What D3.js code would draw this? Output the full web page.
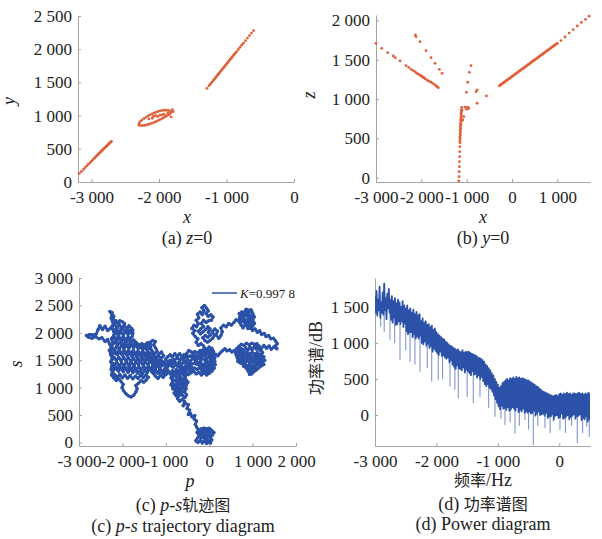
<!DOCTYPE html>
<meta charset="utf-8">
<style>
body { margin: 0; background: #fff; }
</style>
<svg width="602" height="539"></svg>
<script src="https://cdn.jsdelivr.net/npm/d3@7"></script>
<script>
// ---- (a) z=0 : three groups of points, [x, y]
var aLowLine = [[-3180,130],[-3150,160],[-3120,190],[-3095,215],[-3070,242],[-3045,268],[-3020,293],[-3000,315],[-2980,335],[-2960,356],[-2945,372],[-2930,388],[-2915,403],[-2900,418],[-2885,433],[-2870,448],[-2855,463],[-2840,478],[-2828,490],[-2816,502],[-2804,514],[-2792,525],[-2780,537],[-2768,549],[-2756,561],[-2745,572],[-2734,583],[-2723,594],[-2712,605],[-2705,612]];
var aEllipse = [[-2300,860],[-2280,852],[-2250,850],[-2220,852],[-2190,858],[-2160,866],[-2130,876],[-2100,888],[-2070,900],[-2040,913],[-2010,927],[-1980,942],[-1950,958],[-1920,975],[-1890,992],[-1860,1010],[-1835,1030],[-1820,1050],[-1830,1068],[-1860,1078],[-1890,1082],[-1920,1082],[-1950,1078],[-1980,1072],[-2010,1063],[-2040,1052],[-2070,1040],[-2100,1027],[-2130,1012],[-2160,996],[-2190,978],[-2220,958],[-2250,936],[-2275,912],[-2295,888],[-2080,990],[-2050,1000],[-2020,985],[-1990,1005],[-1960,1010],[-1930,1020],[-1900,1000],[-1870,1040],[-1800,1090],[-1790,1060],[-1820,980],[-2100,960],[-2150,950]];
var aHighLine = [[-1290,1411],[-1260,1449],[-1240,1474],[-1220,1499],[-1200,1524],[-1185,1543],[-1170,1562],[-1155,1581],[-1140,1600],[-1125,1619],[-1110,1638],[-1095,1657],[-1080,1676],[-1065,1695],[-1050,1713],[-1035,1732],[-1020,1751],[-1005,1770],[-990,1789],[-975,1808],[-960,1827],[-945,1846],[-930,1865],[-915,1884],[-900,1903],[-885,1922],[-870,1941],[-850,1964],[-825,1997],[-800,2028],[-775,2060],[-750,2091],[-720,2129],[-690,2167],[-660,2205],[-630,2243],[-600,2281]];
var aXTicks = [-3000,-2000,-1000,0], aXLabels = ['-3 000','-2 000','-1 000','0'];
var aYTicks = [0,500,1000,1500,2000,2500], aYLabels = ['0','500','1 000','1 500','2 000','2 500'];

// ---- (b) y=0 : points, [x, z]
var bLeftLine = [[-3000,1710],[-2874,1646],[-2742,1590],[-2618,1548],[-2574,1527],[-2470,1485],[-2338,1425],[-2278,1404],[-2227,1379],[-2177,1361],[-2132,1345],[-2095,1328],[-2057,1315],[-2022,1303],[-2000,1295],[-1985,1285],[-1960,1277],[-1947,1272],[-1930,1264],[-1912,1256],[-1870,1240],[-1830,1228],[-1786,1214],[-1748,1201],[-1710,1185],[-1675,1167],[-1650,1157],[-1625,1145]];
var bShortLine = [[-2132,1816],[-2117,1794],[-2029,1730],[-1896,1616],[-1786,1527],[-1698,1455],[-1603,1379],[-1543,1328]];
var bStem = [[-1174,-40],[-1168,13],[-1166,76],[-1162,140],[-1160,204],[-1156,267],[-1153,331],[-1150,394],[-1146,445],[-1150,470],[-1144,501],[-1148,520],[-1140,543],[-1146,565],[-1136,585],[-1144,605],[-1132,628],[-1140,650],[-1128,670],[-1136,690],[-1124,712],[-1132,735],[-1120,755],[-1128,775],[-1116,797],[-1124,820],[-1112,840],[-1120,860],[-1110,895],[-1087,734],[-1064,776],[-1102,861],[-1035,896],[-976,896],[-954,880],[-1000,870]];
var bScatter = [[-903,1425],[-940,1341],[-976,1214],[-1006,1086],[-770,1116],[-792,1094],[-770,947],[-565,1040]];
var bRightLine = [[-280,1169],[-260,1177],[-240,1186],[-220,1194],[-200,1203],[-180,1211],[-160,1220],[-140,1228],[-120,1237],[-100,1245],[-80,1254],[-60,1262],[-40,1271],[-20,1279],[0,1287],[20,1296],[40,1304],[60,1313],[80,1321],[100,1330],[120,1338],[140,1347],[160,1355],[180,1364],[200,1372],[220,1381],[240,1389],[260,1398],[280,1406],[300,1415],[320,1423],[340,1432],[360,1440],[380,1449],[400,1457],[420,1466],[440,1474],[460,1483],[480,1491],[500,1500],[520,1508],[540,1516],[560,1524],[580,1533],[600,1541],[620,1550],[640,1558],[660,1567],[680,1575],[700,1584],[720,1592],[740,1601],[760,1609],[780,1618],[800,1626],[820,1635],[840,1643],[860,1652],[880,1660],[900,1669],[920,1677],[940,1686],[960,1694],[980,1702],[1000,1710],[1080,1745],[1170,1790],[1260,1840],[1350,1885],[1440,1930],[1530,1975],[1620,2015],[1700,2055]];
var bXTicks = [-3000,-2000,-1000,0,1000], bXLabels = ['-3 000','-2 000','-1 000','0','1 000'];
var bYTicks = [0,500,1000,1500,2000], bYLabels = ['0','500','1 000','1 500','2 000'];

// ---- (c) p-s trajectory, [p, s]
var walk = [
// blob near the origin
[0,40],[-30,0],[-70,40],[-50,90],[-100,70],[-140,120],[-110,170],[-170,150],[-210,200],[-250,160],[-220,110],[-270,80],[-310,30],[-260,0],[-200,40],[-160,-10],[-110,30],[-60,-20],[-20,20],[30,-10],[60,50],[20,90],[70,130],[110,180],[60,220],[20,170],[-20,220],[-60,180],[-90,230],[-140,210],[-180,250],[-120,260],[-60,250],[0,260],[40,230],[-10,130],[-60,140],[-120,120],[-180,80],[-230,130],[-280,180],[-250,240],[-290,280],
[-320,330],[-290,390],[-350,430],[-330,490],[-400,470],[-430,530],[-480,510],[-450,590],[-510,620],[-480,690],[-550,710],[-600,670],[-570,750],
// blob around (-700, 1000)
[-620,790],[-680,750],[-730,800],[-690,860],[-760,850],[-810,900],[-770,950],[-840,980],[-800,1040],[-860,1080],[-810,1130],[-860,1180],[-800,1220],[-740,1190],[-770,1130],[-710,1100],[-750,1040],[-690,1010],[-720,950],[-660,920],[-620,860],[-560,820],[-520,870],[-570,920],[-530,980],[-600,1000],[-640,1060],[-580,1090],[-530,1040],[-490,1100],[-540,1150],[-600,1140],[-650,1180],[-700,1240],[-640,1260],[-580,1220],[-530,1270],[-600,1290],[-680,1280],[-740,1250],[-800,1280],[-850,1240],[-880,1180],[-840,1120],[-880,1050],[-830,1000],[-790,1060],[-740,1080],[-690,1150],[-640,1120],[-610,1030],[-660,980],[-610,940],[-680,880],[-740,900],[-700,960],[-760,1000],[-720,1060],[-650,1070],[-560,1050],[-520,1120],[-560,1190],[-520,1240],
// middle blob
[-560,1310],[-500,1350],[-450,1310],[-410,1380],[-470,1420],[-530,1390],[-550,1460],[-500,1510],[-440,1480],[-380,1530],[-430,1580],[-490,1560],[-520,1620],[-470,1680],[-410,1650],[-350,1610],[-380,1550],[-320,1500],[-270,1540],[-300,1460],[-240,1420],[-190,1470],[-220,1540],[-160,1580],[-200,1640],[-140,1690],[-80,1650],[-110,1590],[-50,1550],[-90,1490],[-30,1450],[30,1490],[-10,1560],[50,1600],[10,1670],[60,1720],[100,1660],[80,1590],[130,1540],[90,1470],[40,1420],[-20,1380],[-80,1410],[-140,1380],[-200,1350],[-160,1300],[-100,1320],[-40,1290],[20,1330],[80,1370],[140,1420],[100,1500],[40,1550],[-20,1620],[-60,1700],
[0,1740],[40,1680],[90,1620],[60,1550],[110,1500],[70,1450],[10,1410],[-50,1450],[-110,1430],[-170,1410],[-230,1460],[-280,1420],[-340,1450],[-400,1430],[-450,1450],[-500,1420],[-460,1380],[-400,1340],[-340,1360],[-280,1330],[-220,1370],[-160,1340],[-100,1370],[-40,1340],[20,1380],[-20,1430],[-70,1530],[-130,1520],[-190,1540],[-250,1590],[-310,1570],[-370,1600],[-330,1660],[-270,1630],[-210,1680],[-150,1640],[-90,1600],[-40,1620],[-90,1710],
[-130,1760],
// upper blob
[-190,1800],[-250,1770],[-300,1830],[-260,1890],[-320,1930],[-380,1990],[-330,2040],[-400,2080],[-350,2140],[-290,2110],[-250,2170],[-300,2230],[-240,2270],[-270,2340],[-210,2380],[-160,2330],[-120,2400],[-170,2460],[-110,2500],[-60,2450],[-20,2400],[-70,2350],[-20,2300],[40,2330],[90,2290],[50,2230],[-10,2220],[-70,2190],[-130,2230],[-180,2170],[-130,2110],[-200,2070],[-250,2030],[-200,1980],[-140,2020],[-80,2060],[-30,2110],[20,2070],[-20,2010],[30,1960],[-30,1920],[-90,1950],[-150,1910],[-100,1860],[-40,1830],[20,1860],[80,1900],[120,1960],[70,2020],[130,2070],[190,2030],[160,1960],[220,1900],[270,1950],
[300,2020],[270,2090],[330,2140],[390,2110],[450,2170],[510,2140],[570,2190],[620,2240],[670,2220],
// top-right blob
[720,2290],[690,2350],[750,2380],[790,2330],[830,2390],[880,2420],[930,2380],[980,2400],[1000,2340],[950,2310],[1010,2270],[970,2220],[1030,2190],[980,2140],[920,2170],[880,2110],[830,2150],[780,2090],[740,2140],[700,2190],[760,2220],[810,2260],[860,2220],[910,2260],[870,2310],[820,2330],[770,2300],[840,2350],[900,2340],[940,2200],[890,2080],[950,2080],
[1000,2120],[1040,2170],[1000,2230],[1040,2290],[1000,2360],[960,2420],[900,2390],[850,2430],[800,2370],[740,2340],[700,2280],[740,2240],[790,2200],[850,2180],[900,2230],[960,2250],[990,2170],[960,2110],[1000,2060],
[1000,2040],[1060,2070],[1110,2010],[1160,2040],[1210,1970],[1270,1990],[1310,1930],[1370,1950],[1420,1890],[1480,1900],[1530,1850],[1570,1800],[1520,1760],[1560,1710],[1490,1740],[1430,1700],[1380,1760],[1320,1720],
// right blob
[1260,1770],[1200,1710],[1150,1760],[1090,1700],[1040,1750],[990,1690],[940,1740],[890,1680],[840,1730],[780,1680],[730,1720],[680,1670],[650,1600],[710,1620],[760,1580],[700,1540],[660,1480],[720,1450],[780,1500],[830,1450],[790,1390],[850,1360],[900,1300],[930,1240],[980,1290],[950,1360],[1010,1410],[1060,1370],[1110,1430],[1170,1390],[1230,1450],[1280,1500],[1220,1540],[1160,1500],[1120,1560],[1060,1520],[1000,1570],[940,1520],[880,1560],[830,1520],[870,1600],[930,1620],[990,1640],[1050,1610],[1110,1640],[1170,1600],[1230,1640],[1180,1680],[1120,1720],[1100,1800],[1040,1790],[980,1810],[920,1780],[860,1810],[800,1770],[740,1790],[680,1750],[630,1710],
[680,1690],[730,1650],[790,1620],[850,1650],[910,1600],[970,1580],[1030,1540],[1090,1580],[1150,1560],[1210,1590],[1260,1560],[1230,1500],[1180,1460],[1120,1480],[1060,1450],[1000,1480],[940,1440],[900,1400],[950,1300],[1000,1340],[1040,1300],[980,1250],[920,1290],[870,1400],[820,1420],[760,1440],[700,1460],[680,1540],[640,1560],[620,1640],
[680,1600],[740,1520],[800,1560],[860,1500],[920,1540],[980,1500],[1040,1460],[1100,1490],[1160,1440],[1220,1480],[1260,1420],[1200,1400],[1140,1360],[1080,1320],[1020,1380],[960,1420],[900,1480],[840,1540],[780,1580],[720,1560],[660,1520],[620,1600],
[580,1680],[520,1650],[470,1690],[410,1670],[360,1710],[300,1670],[250,1630],[200,1580],[150,1610],[100,1560],
[130,1480],[70,1420],[120,1360],[60,1300],[0,1260],[-60,1230],[-120,1270],[-180,1230],[-240,1280],[-300,1250],[-360,1300],[-420,1270],[-480,1240],[-540,1300],[-600,1360],[-660,1400],[-720,1380],[-780,1420],[-830,1370],[-880,1400],
[-930,1450],[-990,1410],[-1040,1470],[-1100,1430],[-1160,1480],[-1110,1540],[-1050,1580],[-1100,1650],[-1160,1610],[-1220,1560],[-1270,1510],[-1230,1440],[-1290,1380],[-1250,1320],[-1190,1280],[-1140,1330],[-1080,1290],[-1020,1350],[-960,1310],[-1000,1240],[-1060,1190],[-1120,1230],[-1180,1170],[-1240,1210],[-1300,1270],[-1330,1340],[-1300,1420],[-1250,1480],[-1200,1420],[-1150,1380],[-1090,1400],[-1030,1420],[-980,1360],[-940,1300],
[-900,1250],[-850,1310],[-800,1260],[-760,1330],[-710,1300],[-660,1350],[-610,1320],[-560,1380],[-520,1440],[-580,1480],[-630,1430],[-690,1470],[-740,1420],[-800,1480],[-850,1440],[-900,1500],[-950,1470],[-1010,1520],[-960,1560],[-900,1600],[-850,1560],[-790,1620],[-740,1570],[-680,1620],[-630,1560],[-580,1600],[-540,1550],[-600,1520],[-660,1510],[-720,1530],[-780,1520],[-840,1500],[-900,1420],[-960,1380],[-1020,1300],[-980,1250],
[-1000,1280],[-1060,1260],[-1120,1300],[-1180,1260],[-1240,1290],
// big left blob
[-1320,1290],[-1380,1340],[-1430,1270],[-1490,1320],[-1540,1250],[-1600,1310],[-1650,1260],[-1710,1330],[-1760,1270],[-1820,1340],[-1870,1280],[-1930,1350],[-1980,1290],[-2040,1360],[-2090,1300],[-2150,1370],[-2200,1320],[-2250,1380],
[-2210,1440],[-2180,1400],[-2130,1460],[-2070,1390],[-2020,1450],[-1960,1400],[-1910,1470],[-1850,1410],[-1800,1460],[-1740,1400],[-1690,1470],[-1630,1420],[-1580,1480],[-1520,1410],[-1470,1470],[-1410,1420],[-1360,1480],[-1300,1430],[-1250,1490],[-1190,1440],[-1130,1500],[-1080,1460],
[-1120,1540],[-1180,1580],[-1230,1520],[-1290,1590],[-1340,1530],[-1400,1600],[-1450,1540],[-1510,1610],[-1560,1550],[-1620,1620],[-1670,1560],[-1730,1630],[-1780,1570],[-1840,1640],[-1890,1580],[-1950,1650],[-2000,1590],[-2060,1660],[-2110,1600],[-2170,1670],[-2220,1610],[-2270,1680],
[-2230,1730],[-2180,1690],[-2130,1760],[-2070,1700],[-2020,1770],[-1960,1710],[-1910,1780],[-1850,1720],[-1800,1790],[-1740,1730],[-1690,1780],[-1640,1720],[-1590,1760],[-1540,1700],[-1480,1740],[-1430,1680],[-1380,1730],[-1330,1680],
[-1360,1800],[-1420,1820],[-1480,1780],[-1550,1800],[-1620,1780],[-1690,1830],[-1740,1870],[-1800,1820],[-1850,1890],[-1910,1830],[-1960,1900],[-2020,1840],[-2070,1910],[-2130,1850],[-2180,1920],[-2240,1870],
[-2200,1960],[-2150,2010],[-2090,1950],[-2040,2020],[-1980,1960],[-1930,2030],[-1870,1970],[-1820,2040],[-1760,1990],
[-1790,2080],[-1850,2130],[-1900,2070],[-1960,2140],[-2010,2080],[-2070,2150],[-2120,2090],[-2180,2150],[-2230,2200],[-2260,2270],[-2240,2330],[-2290,2390],[-2240,2370],[-2200,2300],[-2210,2230],[-2170,2180],[-2230,2130],[-2280,2080],
// tail to the far left
[-2340,2040],[-2400,2120],[-2460,2060],[-2520,2130],[-2560,2060],[-2600,1980],[-2680,1960],[-2760,1970],[-2830,1950],[-2780,1920],[-2700,1900],[-2620,1930],[-2540,1890],[-2470,1910],[-2400,1840],[-2340,1880],[-2300,1800],[-2260,1740],[-2300,1680],[-2270,1600],[-2230,1540],[-2270,1470],[-2230,1400],[-2260,1330],[-2220,1270],[-2170,1230],
// lower edge and loop
[-2120,1190],[-2060,1240],[-2000,1180],[-1940,1230],[-1880,1170],[-1820,1220],[-1760,1160],[-1700,1210],[-1640,1170],[-1580,1230],[-1520,1180],[-1460,1230],[-1400,1190],[-1450,1140],[-1510,1100],[-1570,1130],[-1630,1080],[-1690,1040],[-1660,980],[-1690,920],[-1740,860],[-1800,830],[-1860,850],[-1920,890],[-1970,940],[-2010,1000],[-1980,1060],[-2030,1110],[-2080,1160],[-2140,1130],[-2200,1180],[-2250,1230],
// second pass through the big left blob
[-2230,1340],[-2180,1390],[-2120,1330],[-2070,1390],[-2010,1340],[-1950,1400],[-1900,1330],[-1840,1390],[-1790,1340],[-1730,1400],[-1680,1330],[-1620,1380],[-1570,1330],[-1510,1390],[-1460,1340],[-1400,1390],[-1350,1340],[-1290,1400],[-1240,1350],[-1180,1390],[-1130,1340],
[-1150,1480],[-1200,1510],[-1260,1460],[-1310,1520],[-1370,1470],[-1420,1530],[-1480,1480],[-1530,1530],[-1590,1470],[-1640,1530],[-1700,1480],[-1750,1540],[-1810,1480],[-1860,1540],[-1920,1490],[-1970,1550],[-2030,1490],[-2080,1550],[-2140,1500],[-2190,1550],[-2250,1500],
[-2240,1620],[-2190,1660],[-2130,1610],[-2080,1670],[-2020,1620],[-1970,1680],[-1910,1620],[-1860,1680],[-1800,1630],[-1750,1680],[-1690,1620],[-1640,1670],[-1580,1620],[-1530,1660],[-1470,1610],[-1420,1660],[-1360,1610],[-1310,1660],[-1260,1620],[-1200,1660],
[-1230,1720],[-1280,1780],[-1240,1840],[-1300,1860],[-1360,1830],[-1420,1770],[-1480,1720],[-1540,1760],[-1600,1730],[-1660,1770],[-1720,1800],[-1780,1760],[-1830,1810],[-1890,1760],[-1940,1820],[-2000,1770],[-2050,1830],[-2110,1780],[-2160,1840],[-2220,1790],
[-2250,1900],[-2200,1940],[-2140,1890],[-2090,1930],[-2030,1880],[-1980,1930],[-1920,1870],[-1870,1920],[-1810,1900],[-1770,1940],
[-1760,2050],[-1820,2000],[-1880,2060],[-1930,2010],[-1990,2070],[-2040,2060],[-2100,2010],[-2150,2070],[-2200,2020],[-2240,2080],
[-2200,2170],[-2150,2220],[-2100,2170],[-2060,2220],[-2000,2200],[-1950,2170]];
var cXTicks = [-3000,-2000,-1000,0,1000,2000], cXLabels = ['-3 000','-2 000','-1 000','0','1 000','2 000'];
var cYTicks = [0,500,1000,1500,2000,2500,3000], cYLabels = ['0','500','1 000','1 500','2 000','2 500','3 000'];

// ---- (d) power spectrum band, dB values every 12.5 Hz from -3000 Hz to 500 Hz
var specStart = -3000, specStep = 12.5;
var spectrum = [
1650,1420,1720,1380,1600,1450,1780,1350,1560,1420,1700,1390,1820,1450,1620,1330,1680,1480,1750,1420,
1600,1320,1650,1280,1580,1350,1620,1250,1550,1260,1600,1300,1560,1260,1500,1300,1580,1220,1520,1270,
1480,1160,1520,1120,1450,1150,1480,1150,1420,1080,1460,1120,1400,1060,1430,1090,1380,1060,1400,1100,
1300,1000,1340,980,1280,1020,1300,960,1250,990,1260,930,1220,960,1240,880,1180,920,1200,890,
1150,860,1120,830,1100,880,1080,820,1060,830,1050,800,1020,780,1000,800,980,730,960,760,
950,700,930,670,920,640,900,690,910,650,880,640,870,620,900,660,860,590,880,630,
870,610,880,580,860,550,850,610,840,560,830,570,820,520,800,550,790,500,780,530,
760,470,740,430,700,400,680,430,650,380,620,360,580,320,550,270,500,220,460,170,
420,120,380,80,400,130,440,90,460,100,480,70,500,110,480,60,510,80,500,110,
520,90,500,60,530,110,510,40,520,70,500,50,510,90,500,30,490,50,480,30,
480,50,460,20,450,30,430,60,420,-10,400,20,390,50,370,0,350,10,330,20,
320,-10,310,30,300,-40,290,-20,280,-20,270,10,260,-60,270,-10,280,0,260,-40,
290,-30,300,20,280,-50,300,-40,290,-20,310,0,290,-60,300,-30,280,-10,300,10,
300,-50,290,-20,300,-10,310,10,290,-70,300,-40,280,-60,300,-20,290,-90,310,-60,
300];
// deep dips below the band, [Hz, dB]
var dips = [[-2907,1226],[-2850,1150],[-2756,1042],[-2680,1000],[-2593,764],[-2500,900],[-2430,740],[-2350,700],[-2267,601],[-2150,650],[-2077,463],[-1970,486],[-1900,500],[-1779,394],[-1700,350],[-1644,231],[-1500,250],[-1400,162],[-1291,254],[-1150,100],[-1047,-23],[-950,-50],[-884,-139],[-800,-100],[-721,-255],[-650,-150],[-558,-69],[-500,-200],[-423,-417],[-350,-150],[-233,-185],[-150,-250],[-97,-93],[11,-208],[100,-250],[200,-150],[293,-393],[380,-250],[446,-162],[488,-301]];
var dXTicks = [-3000,-2000,-1000,0], dXLabels = ['-3 000','-2 000','-1 000','0'];
var dYTicks = [0,500,1000,1500], dYLabels = ['0','500','1 000','1 500'];

var svg = d3.select('svg');
var serif = 'Liberation Serif, Times New Roman, serif';
var cjk = 'Noto Sans CJK SC, sans-serif';
var orange = '#e0603a', blue = '#2b52a8', lightBlue = '#7f95cf', axisGray = '#a3a3a3';

function drawAxes(x, y, xt, xl, yt, yl) {
    var gx = svg.append('g')
        .attr('transform', `translate(0, ${y.range()[0]})`)
        .call(d3.axisBottom(x).tickValues(xt).tickFormat(function (d, i) { return xl[i]; })
            .tickSize(-3).tickSizeOuter(0).tickPadding(9));
    var gy = svg.append('g')
        .attr('transform', `translate(${x.range()[0]}, 0)`)
        .call(d3.axisLeft(y).tickValues(yt).tickFormat(function (d, i) { return yl[i]; })
            .tickSize(-3).tickSizeOuter(0).tickPadding(6));
    [gx, gy].forEach(function (g) {
        g.attr('font-size', 17).attr('font-family', serif);
        g.select('.domain').attr('stroke', axisGray);
        g.selectAll('.tick line').attr('stroke', axisGray);
        g.selectAll('.tick text').attr('fill', '#222');
    });
}

function label(x, y, parts, rotate, size) {
    var t = svg.append('text')
        .attr('x', x).attr('y', y)
        .attr('text-anchor', 'middle')
        .attr('font-size', size || 18)
        .attr('font-family', serif)
        .attr('fill', '#222');
    if (rotate) t.attr('transform', `rotate(-90, ${x}, ${y})`);
    parts.forEach(function (p) {
        var s = t.append('tspan').text(p[0]);
        if (p[1] === 'i') s.attr('font-style', 'italic');
        if (p[1] === 'c') s.attr('font-family', cjk).attr('font-size', (size || 18) - 2);
    });
}

function dots(x, y, data) {
    svg.append('g').selectAll('circle')
        .data(data).enter().append('circle')
        .attr('cx', function (d) { return x(d[0]); })
        .attr('cy', function (d) { return y(d[1]); })
        .attr('r', 1.4)
        .attr('fill', orange);
}

// (a)
var xa = d3.scaleLinear().domain([-3200, 0]).range([78, 294]);
var ya = d3.scaleLinear().domain([0, 2500]).range([182, 16]);
drawAxes(xa, ya, aXTicks, aXLabels, aYTicks, aYLabels);
dots(xa, ya, aLowLine);
dots(xa, ya, aEllipse);
dots(xa, ya, aHighLine);
label(15, 101, [['y', 'i']], true);
label(187, 223, [['x', 'i']]);
label(187, 244, [['(a) '], ['z', 'i'], ['=0']]);

// (b)
var xb = d3.scaleLinear().domain([-3000, 1720]).range([376, 590]);
var yb = d3.scaleLinear().domain([-55, 2070]).range([182, 15]);
drawAxes(xb, yb, bXTicks, bXLabels, bYTicks, bYLabels);
dots(xb, yb, bLeftLine);
dots(xb, yb, bShortLine);
dots(xb, yb, bStem);
dots(xb, yb, bScatter);
dots(xb, yb, bRightLine);
label(315, 95, [['z', 'i']], true);
label(483, 223, [['x', 'i']]);
label(483, 244, [['(b) '], ['y', 'i'], ['=0']]);

// (c)
var xc = d3.scaleLinear().domain([-3000, 2000]).range([79, 296]);
var yc = d3.scaleLinear().domain([-65, 3000]).range([446, 278]);
drawAxes(xc, yc, cXTicks, cXLabels, cYTicks, cYLabels);
svg.append('path')
    .datum(walk)
    .attr('fill', 'none')
    .attr('stroke', blue)
    .attr('stroke-width', 2.8)
    .attr('stroke-linejoin', 'round')
    .attr('stroke-linecap', 'round')
    .attr('d', d3.line().x(function (d) { return xc(d[0]); }).y(function (d) { return yc(d[1]); }));
svg.append('g').selectAll('circle')
    .data(walk).enter().append('circle')
    .attr('cx', function (d) { return xc(d[0]); })
    .attr('cy', function (d) { return yc(d[1]); })
    .attr('r', 1.7)
    .attr('fill', blue);
svg.append('line').attr('x1', 212).attr('x2', 237).attr('y1', 293).attr('y2', 293)
    .attr('stroke', blue).attr('stroke-width', 1.5);
var lg = svg.append('text').attr('x', 240).attr('y', 297.5)
    .attr('font-size', 13).attr('font-family', serif).attr('fill', '#222');
lg.append('tspan').attr('font-style', 'italic').text('K');
lg.append('tspan').text('=0.997 8');
label(22, 364, [['s', 'i']], true);
label(190, 487, [['p', 'i']]);
label(183, 511, [['(c) '], ['p-s', 'i'], ['轨迹图', 'c']]);
label(183, 532, [['(c) '], ['p-s', 'i'], [' trajectory diagram']]);

// (d)
var xd = d3.scaleLinear().domain([-3000, 500]).range([375, 590]);
var yd = d3.scaleLinear().domain([-430, 1900]).range([446, 278]);
drawAxes(xd, yd, dXTicks, dXLabels, dYTicks, dYLabels);
svg.append('clipPath').attr('id', 'clipd').append('rect')
    .attr('x', 375).attr('y', 278).attr('width', 215).attr('height', 168);
var plotD = svg.append('g').attr('clip-path', 'url(#clipd)');
plotD.selectAll('line.dip')
    .data(dips).enter().append('line')
    .attr('class', 'dip')
    .attr('x1', function (d) { return xd(d[0]); })
    .attr('x2', function (d) { return xd(d[0]); })
    .attr('y1', function (d) { return yd(spectrum[Math.round((d[0] - specStart) / specStep)]); })
    .attr('y2', function (d) { return yd(d[1]); })
    .attr('stroke', lightBlue)
    .attr('stroke-width', 1.1);
plotD.append('path')
    .datum(spectrum)
    .attr('fill', 'none')
    .attr('stroke', blue)
    .attr('stroke-width', 1.8)
    .attr('stroke-linejoin', 'round')
    .attr('d', d3.line().x(function (d, i) { return xd(specStart + i * specStep); }).y(function (d) { return yd(d); }));
label(322, 358, [['功率谱', 'c'], ['/dB']], true);
label(483, 486, [['频率', 'c'], ['/Hz']]);
label(483, 510, [['(d) '], ['功率谱图', 'c']]);
label(483, 530, [['(d) Power diagram']]);
</script>
